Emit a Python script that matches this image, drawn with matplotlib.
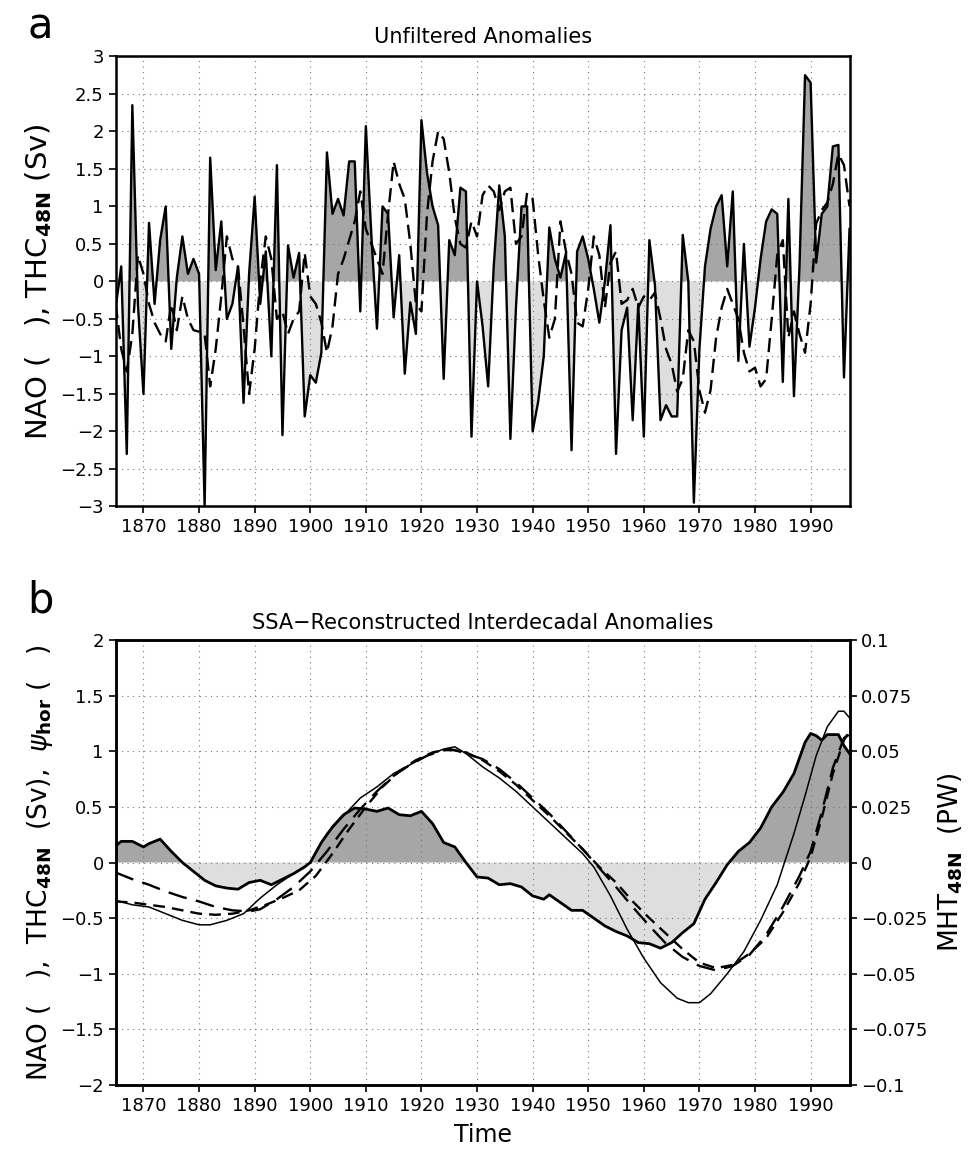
import numpy as np
import matplotlib
matplotlib.use("Agg")
import matplotlib.pyplot as plt
from matplotlib.ticker import FuncFormatter

# ---- panel a: yearly unfiltered anomalies ----
years_a = np.arange(1865, 1998)
nao_a = [-0.35, 0.2, -2.3, 2.35, -0.3, -1.5, 0.78, -0.3, 0.55, 1.0,
         -0.9, 0.05, 0.6, 0.1, 0.3, 0.1, -3.0, 1.65, 0.15, 0.8,
         -0.5, -0.3, 0.2, -1.62, 0.1, 1.13, -0.3, 0.4, -1.0, 1.55,
         -2.05, 0.48, 0.05, 0.38, -1.8, -1.25, -1.35, -0.95, 1.72, 0.9,
         1.1, 0.88, 1.6, 1.6, -0.4, 2.07, 0.6, -0.63, 1.0, 0.9,
         -0.48, 0.35, -1.23, -0.28, -0.7, 2.15, 1.45, 1.0, 0.75, -1.3,
         0.55, 0.35, 1.25, 1.2, -2.07, 0.0, -0.6, -1.4, 0.2, 1.28,
         0.6, -2.1, -0.35, 1.0, 1.0, -2.0, -1.6, -1.0, 0.72, 0.3,
         0.05, 0.38, -2.25, 0.4, 0.6, 0.3, -0.1, -0.55, 0.0, 0.75,
         -2.3, -0.65, -0.35, -1.85, -0.3, -2.07, 0.55, -0.05, -1.85, -1.65,
         -1.8, -1.8, 0.62, 0.0, -2.95, -0.9, 0.2, 0.7, 1.0, 1.15,
         0.2, 1.2, -1.06, 0.5, -0.87, -0.35, 0.3, 0.8, 0.96, 0.9,
         -1.34, 1.1, -1.53, 0.2, 2.75, 2.65, 0.25, 0.9, 1.0, 1.8,
         1.82, -1.28, 0.7]
thc_a = [-0.3, -0.9, -1.2, -0.7, 0.35, 0.1, -0.3, -0.55, -0.7, -0.8,
         -0.3, -0.65, -0.2, -0.5, -0.65, -0.67, -0.7, -1.4, -0.9, -0.2,
         0.6, 0.3, 0.2, -0.6, -1.5, -0.9, 0.0, 0.6, 0.3, -0.5,
         -0.4, -0.7, -0.5, -0.4, 0.38, -0.2, -0.3, -0.55, -0.95, -0.6,
         0.1, 0.3, 0.55, 0.8, 1.2, 0.7, 0.5, 0.3, 0.1, 0.9,
         1.6, 1.3, 1.1, 0.5, -0.3, -0.4, 0.9, 1.6, 2.0, 1.9,
         1.45, 0.85, 0.5, 0.45, 0.8, 0.6, 1.15, 1.28, 1.2, 0.95,
         1.2, 1.25, 0.5, 0.6, 1.18, 1.1, 0.35, -0.25, -0.75, -0.5,
         0.8, 0.4, 0.1, -0.55, -0.6, -0.1, 0.6, 0.35, -0.35, 0.25,
         0.4, -0.3, -0.25, -0.1, -0.35, -0.2, -0.25, -0.15, -0.5, -0.9,
         -1.1, -1.47, -1.3, -0.65, -0.8, -1.45, -1.75, -1.45, -0.75, -0.35,
         -0.1, -0.3, -0.5, -0.95, -1.2, -1.15, -1.4, -1.3, -0.5, 0.35,
         0.55, -0.75, -0.4, -0.7, -0.95, -0.3, 0.77, 0.95, 1.05, 1.3,
         1.7, 1.55, 1.0]

# ---- panel b: SSA reconstructed interdecadal anomalies ----
years_nao_b = [1865, 1866, 1868, 1870, 1871, 1873, 1875, 1877, 1879, 1881,
               1883, 1885, 1887, 1889, 1891, 1893, 1895, 1897, 1899, 1900,
               1902, 1904, 1906, 1908, 1910, 1912, 1914, 1916, 1918, 1920,
               1922, 1924, 1926, 1928, 1930, 1932, 1934, 1936, 1938, 1940,
               1942, 1943, 1945, 1947, 1949, 1951, 1953, 1955, 1957, 1959,
               1961, 1963, 1965, 1967, 1969, 1971, 1973, 1975, 1977, 1979,
               1981, 1983, 1985, 1987, 1989, 1990, 1991, 1992, 1993, 1995,
               1996, 1997]
nao_b = [0.15, 0.19, 0.19, 0.14, 0.17, 0.21, 0.10, 0.0, -0.08, -0.16,
         -0.21, -0.23, -0.24, -0.18, -0.16, -0.20, -0.15, -0.10, -0.04, 0.0,
         0.18, 0.32, 0.43, 0.49, 0.48, 0.46, 0.49, 0.43, 0.42, 0.46,
         0.35, 0.18, 0.14, 0.0, -0.13, -0.14, -0.20, -0.19, -0.22, -0.30,
         -0.33, -0.29, -0.36, -0.43, -0.43, -0.50, -0.57, -0.62, -0.66, -0.72,
         -0.73, -0.77, -0.72, -0.63, -0.55, -0.33, -0.18, -0.02, 0.10, 0.18,
         0.31, 0.50, 0.63, 0.80, 1.08, 1.16, 1.14, 1.10, 1.15, 1.15,
         1.05, 0.98]

years_thc_b = [1865, 1868, 1871, 1874, 1877, 1880, 1883, 1886, 1889, 1891,
               1894, 1897, 1900, 1903, 1906, 1909, 1912, 1915, 1918, 1921,
               1924, 1926, 1928, 1931, 1934, 1937, 1940, 1943, 1946, 1949,
               1952, 1955, 1958, 1961, 1964, 1967, 1970, 1973, 1976, 1979,
               1982, 1985, 1988, 1990, 1992, 1994, 1996, 1997]
thc_b = [-0.09, -0.15, -0.20, -0.26, -0.31, -0.35, -0.40, -0.43, -0.44, -0.42,
         -0.33, -0.22, -0.08, 0.10, 0.30, 0.48, 0.64, 0.78, 0.88, 0.96,
         1.01, 1.01, 0.98, 0.93, 0.84, 0.72, 0.58, 0.44, 0.28, 0.12,
         -0.05, -0.22, -0.40, -0.57, -0.73, -0.85, -0.93, -0.97, -0.93, -0.83,
         -0.65, -0.40, -0.12, 0.10, 0.45, 0.85, 1.12, 1.15]

years_psi_b = [1865, 1868, 1871, 1874, 1877, 1880, 1883, 1886, 1889, 1892,
               1895, 1898, 1901, 1904, 1907, 1910, 1913, 1916, 1919, 1922,
               1925, 1928, 1931, 1934, 1937, 1940, 1943, 1946, 1949, 1952,
               1955, 1958, 1961, 1964, 1967, 1970, 1973, 1976, 1979, 1982,
               1985, 1988, 1990, 1992, 1994, 1996, 1997]
psi_b = [-0.35, -0.36, -0.38, -0.40, -0.43, -0.46, -0.47, -0.46, -0.43, -0.38,
         -0.32, -0.25, -0.12, 0.08, 0.30, 0.50, 0.68, 0.82, 0.92, 0.99,
         1.02, 0.99, 0.92, 0.82, 0.70, 0.56, 0.42, 0.27, 0.12, -0.04,
         -0.18, -0.35, -0.50, -0.64, -0.78, -0.90, -0.95, -0.92, -0.82, -0.68,
         -0.45, -0.18, 0.05, 0.40, 0.80, 1.10, 1.18]

years_mht_b = [1865, 1868, 1871, 1874, 1877, 1880, 1882, 1885, 1888, 1891,
               1894, 1897, 1900, 1903, 1906, 1909, 1912, 1915, 1918, 1921,
               1924, 1926, 1928, 1931, 1934, 1937, 1940, 1943, 1946, 1949,
               1951, 1954, 1957, 1960, 1963, 1966, 1968, 1970, 1972, 1975,
               1978, 1981, 1984, 1987, 1989, 1991, 1993, 1995, 1996, 1997]
mht_b = [-0.017, -0.019, -0.020, -0.023, -0.026, -0.028, -0.028, -0.026, -0.023, -0.016,
         -0.010, -0.005, 0.0, 0.013, 0.021, 0.029, 0.034, 0.040, 0.044, 0.048,
         0.051, 0.052, 0.049, 0.043, 0.038, 0.032, 0.025, 0.018, 0.011, 0.004,
         -0.002, -0.015, -0.030, -0.043, -0.054, -0.061, -0.063, -0.063, -0.059, -0.050,
         -0.040, -0.026, -0.010, 0.013, 0.030, 0.048, 0.061, 0.068, 0.068, 0.065]

pos_fill = "#a6a6a6"
neg_fill = "#dedede"


def fmt(v, pos):
    s = "%g" % round(v, 6)
    if s == "-0":
        s = "0"
    return s.replace("-", "\u2212")


def style_axis(ax):
    ax.set_xlim(1865, 1997)
    ax.set_xticks(np.arange(1870, 1991, 10))
    ax.grid(True, color="#777777", linestyle=(0, (1, 4)), linewidth=0.8)
    ax.tick_params(direction="out", length=5, width=1.2, labelsize=13)
    ax.yaxis.set_major_formatter(FuncFormatter(fmt))
    for sp in ax.spines.values():
        sp.set_linewidth(1.8)


fig = plt.figure(figsize=(9.72, 11.75), dpi=100)

# panel a
ax1 = fig.add_axes([0.119, 0.569, 0.755, 0.383])
ya = np.array(nao_a)
ax1.fill_between(years_a, ya, 0, where=ya >= 0, interpolate=True,
                 color=pos_fill, linewidth=0)
ax1.fill_between(years_a, ya, 0, where=ya <= 0, interpolate=True,
                 color=neg_fill, linewidth=0)
ax1.plot(years_a, thc_a, color="black", lw=1.7, dashes=(6, 3))
ax1.plot(years_a, nao_a, color="black", lw=1.7)
ax1.set_ylim(-3, 3)
ax1.set_yticks(np.arange(-3, 3.01, 0.5))
style_axis(ax1)
ax1.set_title("Unfiltered Anomalies", fontsize=15, pad=10)
ax1.set_ylabel(r"NAO (   ), THC$_{\mathbf{48N}}$ (Sv)", fontsize=21, labelpad=4)
fig.text(0.028, 0.995, "a", fontsize=30, va="top", ha="left")

# panel b
ax2 = fig.add_axes([0.119, 0.0766, 0.755, 0.3787])
yb = np.array(nao_b)
ax2.fill_between(years_nao_b, yb, 0, where=yb >= 0, interpolate=True,
                 color=pos_fill, linewidth=0)
ax2.fill_between(years_nao_b, yb, 0, where=yb <= 0, interpolate=True,
                 color=neg_fill, linewidth=0)
ax2.plot(years_thc_b, thc_b, color="black", lw=1.7, dashes=(8, 4))
ax2.plot(years_psi_b, psi_b, color="black", lw=1.7, dashes=(5, 3))
ax2.plot(years_nao_b, nao_b, color="black", lw=2.0)
ax2.set_ylim(-2, 2)
ax2.set_yticks(np.arange(-2, 2.01, 0.5))
style_axis(ax2)
ax2.set_title("SSA\u2212Reconstructed Interdecadal Anomalies", fontsize=15, pad=8)
ax2.set_ylabel(r"NAO (   ),  THC$_{\mathbf{48N}}$  (Sv),  $\psi_{\mathbf{hor}}$ (   )",
               fontsize=19, labelpad=4)
ax2.set_xlabel("Time", fontsize=17, labelpad=6)
fig.text(0.028, 0.507, "b", fontsize=30, va="top", ha="left")

ax3 = ax2.twinx()
ax3.plot(years_mht_b, mht_b, color="black", lw=1.1)
ax3.set_ylim(-0.1, 0.1)
ax3.set_yticks(np.arange(-0.1, 0.1001, 0.025))
ax3.yaxis.set_major_formatter(FuncFormatter(fmt))
ax3.tick_params(direction="out", length=5, width=1.2, labelsize=13)
ax3.set_ylabel(r"MHT$_{\mathbf{48N}}$  (PW)", fontsize=19, labelpad=6)
for sp in ax3.spines.values():
    sp.set_linewidth(1.8)

fig.savefig("out.png", dpi=100)
